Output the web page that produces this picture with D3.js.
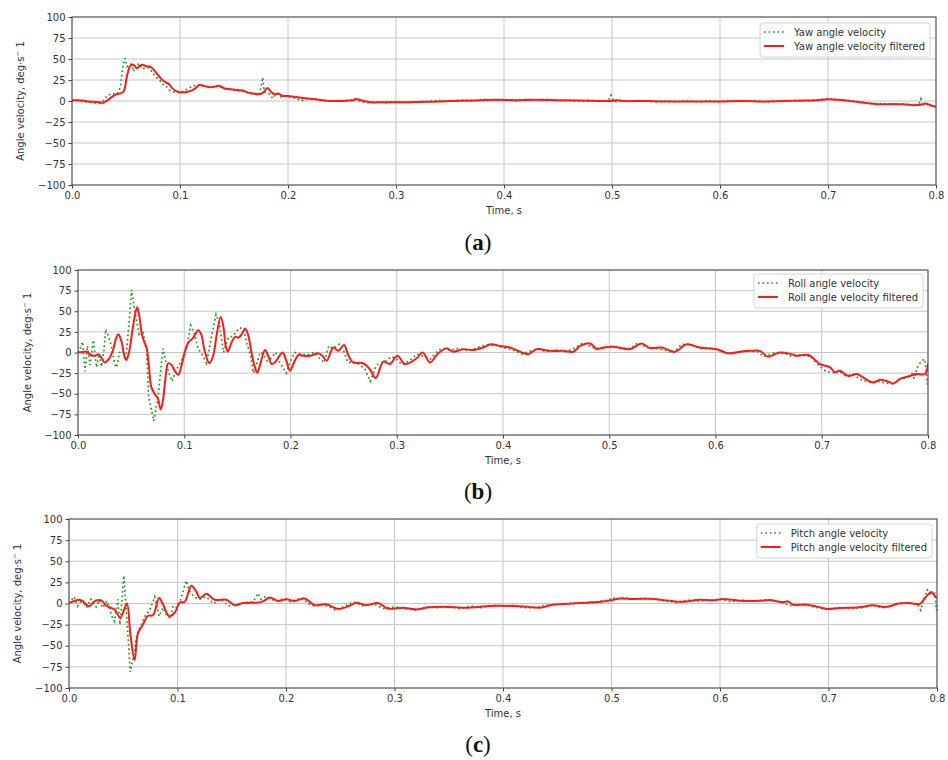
<!DOCTYPE html>
<html><head><meta charset="utf-8">
<script src="https://cdn.jsdelivr.net/npm/d3@7"></script>
<style>body{margin:0;background:#fff}svg{display:block}</style>
</head><body>
<script>
// ---------- tick labels ----------
const xTicks = [0, 0.1, 0.2, 0.3, 0.4, 0.5, 0.6, 0.7, 0.8];
const yTicks = [-100, -75, -50, -25, 0, 25, 50, 75, 100];
const xLabel = "Time, s";
const captions = ["a", "b", "c"];
const rawLabels = ["Yaw angle velocity", "Roll angle velocity", "Pitch angle velocity"];
const filtLabels = ["Yaw angle velocity filtered", "Roll angle velocity filtered", "Pitch angle velocity filtered"];

// ---------- (a) Yaw ----------
const yawRawT = [0,0.005,0.01,0.015,0.02,0.025,0.028,0.031,0.034,0.037,0.04,0.043,0.045,0.047,0.049,0.051,0.053,0.055,0.057,0.059,0.061,0.063,0.065,0.067,0.069,0.072,0.075,0.078,0.081,0.084,0.087,0.09,0.093,0.097,0.1,0.104,0.108,0.112,0.116,0.12,0.125,0.13,0.135,0.14,0.145,0.15,0.155,0.16,0.165,0.17,0.173,0.175,0.1765,0.178,0.18,0.183,0.186,0.189,0.193,0.197,0.202,0.208,0.212,0.218,0.225,0.232,0.24,0.25,0.258,0.262,0.266,0.272,0.28,0.29,0.3,0.31,0.32,0.33,0.34,0.35,0.36,0.37,0.38,0.39,0.4,0.41,0.42,0.43,0.44,0.45,0.46,0.47,0.48,0.49,0.497,0.499,0.5,0.502,0.51,0.52,0.53,0.54,0.55,0.56,0.57,0.58,0.59,0.6,0.61,0.62,0.63,0.64,0.65,0.66,0.67,0.68,0.69,0.7,0.71,0.72,0.73,0.74,0.75,0.76,0.77,0.78,0.784,0.786,0.788,0.79,0.793,0.797,0.8];
const yawRaw = [0,0.5,-1,-1,-2,-3,-1,4,7,9,8,10,18,40,51,41,43,44,35,43,44,40,42,38,43,38,33,28,25,20,18,13,11,10,10,12,15,18,19,18,17,17,18,15,14,13,12,11,9,8,7,16,28,12,9,8,3,9,5,6,5,3,0,3,2,1,-0.5,0.5,1,3,0,-2,-1,-2,-1,-2,-1,-0.5,0.5,0,1,0,2,1,2,0.5,2,1,2,0.5,1,0,1,-0.5,1,7,4,-1,0.5,-0.5,0.5,-1,0,-1,0.5,-1,0,-1,0.5,-0.5,0.5,-1,0,-0.5,0.5,0,1.5,2.5,1,0.5,-1,-3,-3,-4,-3.5,-5,-4,2.5,-6,-2,-5,-6,-7];
const yawFiltT = [0,0.005,0.01,0.015,0.02,0.025,0.029,0.033,0.037,0.041,0.045,0.048,0.051,0.054,0.057,0.06,0.063,0.066,0.069,0.072,0.075,0.079,0.083,0.087,0.09,0.093,0.096,0.1,0.105,0.11,0.114,0.118,0.122,0.127,0.132,0.137,0.141,0.147,0.153,0.158,0.163,0.168,0.173,0.177,0.181,0.185,0.188,0.191,0.195,0.2,0.206,0.212,0.218,0.225,0.232,0.24,0.25,0.258,0.264,0.27,0.276,0.29,0.31,0.33,0.35,0.37,0.39,0.41,0.43,0.45,0.47,0.49,0.5,0.505,0.51,0.53,0.55,0.57,0.6,0.62,0.64,0.66,0.68,0.69,0.7,0.71,0.72,0.73,0.74,0.75,0.76,0.77,0.78,0.786,0.79,0.795,0.8];
const yawFilt = [1,1,0.5,-0.5,-1,-1.5,-2,1,5,8,9,12,30,42,43,39,42,43,41,41,38,32,26,22,20,15,12,10.5,10.5,12,15,19,18,16.5,17,18,15,14,13,12.5,10,9,8,10,15.5,10,8,9,6,6,5,4,3,2,1,0,0,0.5,2,0,-1.5,-1.5,-1.5,-1,0,0.5,1.5,1,1.5,1,0.5,0,0,1,0,0,-0.5,-0.5,-0.5,0,-0.5,0,0.5,1,2,1.5,0,-1.5,-3,-4,-3.5,-4,-5,-4.5,-3,-5,-7];

// ---------- (b) Roll ----------
const rollRawT = [0,0.002,0.0042,0.0066,0.0089,0.0113,0.0144,0.0175,0.02,0.022,0.0245,0.026,0.028,0.031,0.033,0.035,0.0365,0.039,0.042,0.045,0.047,0.0505,0.052,0.055,0.0575,0.061,0.063,0.0645,0.0664,0.0713,0.0753,0.078,0.08,0.0825,0.0855,0.0886,0.092,0.0975,0.1,0.103,0.1062,0.109,0.113,0.118,0.121,0.125,0.1299,0.133,0.137,0.1415,0.146,0.152,0.156,0.159,0.1624,0.165,0.168,0.1713,0.1745,0.178,0.181,0.186,0.19,0.196,0.2,0.204,0.21,0.216,0.222,0.228,0.232,0.236,0.24,0.246,0.25,0.254,0.262,0.27,0.275,0.281,0.288,0.295,0.3,0.305,0.312,0.319,0.326,0.332,0.337,0.342,0.35,0.358,0.368,0.376,0.384,0.392,0.4,0.41,0.418,0.426,0.434,0.44,0.45,0.46,0.468,0.476,0.484,0.49,0.5,0.51,0.52,0.527,0.535,0.545,0.555,0.56,0.568,0.575,0.585,0.595,0.605,0.612,0.62,0.63,0.64,0.645,0.65,0.657,0.665,0.672,0.68,0.69,0.695,0.703,0.71,0.716,0.722,0.73,0.738,0.746,0.752,0.76,0.767,0.773,0.78,0.785,0.787,0.79,0.794,0.797,0.7985,0.8];
const rollRaw = [0,5,13,-23,8,-15,15,-18,-2,-17,3,28,22,10,-3,-15,-18,0,2,-8,20,76,62,40,22,27,10,5,-53,-83,-55,-20,5,-10,-25,-35,-22,-10,-2,10,33,25,5,-5,-13,15,46,35,0,18,20,30,28,10,-3,-25,-15,0,-2,-10,-8,0,-12,-25,-10,0,-2,-3,0,-8,-12,8,5,10,2,-12,-12,-20,-35,-15,-12,-5,-8,-15,-10,-2,-5,-8,0,5,3,5,2,6,9,9,6,3,-2,2,4,1,3,1,6,12,6,5,8,5,5,12,6,5,2,-1,10,10,5,5,3,-2,0,2,1,-5,-3,0,-1,-5,-3,-5,-13,-22,-25,-22,-28,-27,-34,-36,-35,-37,-38,-33,-30,-26,-32,-18,-10,-8,-25,-43];
const rollFiltT = [0,0.004,0.008,0.011,0.0144,0.017,0.019,0.022,0.025,0.029,0.033,0.036,0.038,0.041,0.044,0.0455,0.048,0.051,0.054,0.0558,0.058,0.06,0.062,0.0647,0.067,0.069,0.0725,0.075,0.0778,0.08,0.082,0.085,0.088,0.091,0.0944,0.097,0.1,0.1038,0.108,0.1132,0.116,0.119,0.1236,0.127,0.131,0.1343,0.137,0.139,0.141,0.1445,0.1478,0.151,0.154,0.1572,0.16,0.1634,0.1665,0.1688,0.172,0.176,0.179,0.1823,0.186,0.1926,0.196,0.1995,0.203,0.2075,0.212,0.2184,0.226,0.23,0.234,0.2403,0.245,0.2504,0.254,0.2588,0.2682,0.2745,0.2802,0.2874,0.2936,0.3005,0.3078,0.3187,0.3244,0.3313,0.3391,0.347,0.3527,0.3627,0.372,0.3812,0.3884,0.3972,0.4066,0.416,0.4238,0.4317,0.444,0.4568,0.4662,0.4725,0.4819,0.4882,0.4913,0.5039,0.5195,0.5305,0.5383,0.5494,0.5619,0.5729,0.5854,0.6011,0.612,0.623,0.6337,0.6416,0.6494,0.6604,0.6714,0.6761,0.6874,0.6984,0.7078,0.7125,0.7172,0.725,0.7329,0.7423,0.7486,0.7549,0.7611,0.7674,0.7736,0.7831,0.7878,0.7972,0.8];
const rollFilt = [0,0.5,1,-2,-4,-3.5,-2,-6,-12,-8,3,18,22,13,-6,-9,0,25,48,55,42,23,14,5,-20,-42,-51,-55,-69,-58,-35,-13,-15,-22,-27,-18,-2,12,17,27,22,3,-13,-5,25,43,30,8,1,12,19,18,22,29,22,-1,-18,-24.5,-12,3,-4,-14,-11,0,-10,-22,-13,-3,-4,-4,-1,-4,-10,6,2,9,-2,-12,-13,-20,-31,-11,-14,-4,-14,-7,0,-12,-1,5,1,4,3,6,10,8,6,1,-2,4,2,2,1,8,11,4,5,7,4,11,5.5,6,1,10,6,4,-1,1,2,2,-5,0,-2,-4,-3,-14,-18,-24,-22,-28.5,-26,-33,-36.5,-33,-34.5,-37.5,-32,-28.5,-26,-26,-13];

// ---------- (c) Pitch ----------
const pitchRawT = [0,0.0046,0.008,0.012,0.016,0.02,0.025,0.028,0.031,0.035,0.0395,0.042,0.045,0.047,0.0506,0.052,0.055,0.0565,0.059,0.0625,0.0668,0.07,0.0743,0.079,0.083,0.0866,0.089,0.0934,0.096,0.099,0.103,0.108,0.111,0.115,0.12,0.1266,0.133,0.14,0.147,0.155,0.163,0.17,0.174,0.177,0.181,0.186,0.192,0.198,0.204,0.21,0.216,0.22,0.226,0.234,0.24,0.246,0.254,0.262,0.27,0.28,0.29,0.3,0.31,0.32,0.33,0.34,0.35,0.36,0.37,0.38,0.39,0.4,0.41,0.42,0.43,0.44,0.45,0.46,0.47,0.48,0.49,0.497,0.501,0.505,0.51,0.52,0.53,0.54,0.55,0.56,0.57,0.58,0.59,0.6,0.61,0.62,0.63,0.64,0.65,0.66,0.663,0.67,0.68,0.69,0.7,0.71,0.72,0.73,0.74,0.75,0.757,0.765,0.775,0.782,0.785,0.787,0.791,0.795,0.798,0.7995,0.8];
const pitchRaw = [0,8,-3,5,-5,5,-4,4,-5,3,-15,-21,5,-25,33,5,-50,-81,-65,-38,-25,-15,-8,8,-15,-5,-12,-18,-3,-5,5,27,15,8,5,8,0,5,-3,-1,1,2,12,5,8,5,3,6,2,5,6,0,-3,-1,-4,-8,-3,2,-3,0,-6,-4,-6,-8,-4,-5,-3,-6,-3,-5,-2,-3,-2,-5,-5,-2,-1,0,1,0,3,4,7,5,7,5,6,5,3,1,4,3,4,5,2,4,3,4,3,1,-3,-1,-2,-5,-7,-5,-6,-5,-2,-5,-3,0,0,-1,-8,2,16,10,12,-8,-6];
const pitchFiltT = [0,0.005,0.0099,0.014,0.0184,0.0234,0.0298,0.034,0.039,0.042,0.0473,0.0503,0.0534,0.0568,0.0605,0.0636,0.0682,0.0728,0.0774,0.083,0.0866,0.0922,0.0974,0.102,0.1066,0.1128,0.1174,0.1205,0.1266,0.1343,0.1451,0.1527,0.1605,0.1727,0.1788,0.185,0.1927,0.2004,0.208,0.2172,0.2265,0.2372,0.248,0.2587,0.2649,0.2741,0.2848,0.294,0.3078,0.3202,0.3324,0.3478,0.3631,0.3785,0.3939,0.4092,0.4231,0.4338,0.4461,0.4615,0.4769,0.4922,0.4998,0.5076,0.5199,0.5352,0.5506,0.5659,0.5813,0.5935,0.6028,0.6181,0.6365,0.6458,0.658,0.6627,0.6673,0.6796,0.6903,0.699,0.7101,0.7286,0.741,0.75,0.7566,0.7643,0.775,0.7843,0.789,0.7948,0.798,0.8];
const pitchFilt = [0.5,3,4.5,1,-3.4,2.5,3.7,-2,-5.4,-7,-17,-9,0,-39,-67,-35,-25,-14.5,-14,6.5,-1,-15,-11,1,2,21,14,6.5,11.5,4.5,4.5,-2,0.5,1,2.5,7,3,5,3,6,-2,-1,-6.5,-2.6,1,-2,0.5,-6,-5,-7,-4.5,-4,-5,-4,-2.6,-3,-4,-5,-1.4,-0.3,1,2.5,4,6,5.3,5.7,3.7,2,4.5,3.7,5.3,3.3,3.3,4,1.6,2.5,-1.4,-1.4,-4,-6.5,-5.3,-4.5,-2,-4,-3.3,0,0.5,-0.4,6.5,13.6,9,6.5];

// ---------- layout ----------
const W = 948, H = 760;
const panels = [
  {left:72, right:936, top:17, bottom:185, ylabX:24, capY:243, legR:6, legT:6,
   rawT:yawRawT, raw:yawRaw, filtT:yawFiltT, filt:yawFilt},
  {left:78, right:928, top:270, bottom:435, ylabX:31, capY:492, legR:5, legT:4,
   rawT:rollRawT, raw:rollRaw, filtT:rollFiltT, filt:rollFilt},
  {left:69, right:937, top:519, bottom:688, ylabX:21, capY:745, legR:5, legT:5,
   rawT:pitchRawT, raw:pitchRaw, filtT:pitchFiltT, filt:pitchFilt}
];
const GREEN = "#22962a", RED = "#ff1a1a";
const FONT = "DejaVu Sans, sans-serif";

const svg = d3.select("body").append("svg").attr("width", W).attr("height", H)
  .style("font-family", FONT);

const fmtY = d => d < 0 ? "\u2212" + Math.abs(d) : String(d);

panels.forEach((p, i) => {
  const x = d3.scaleLinear().domain([0, 0.8]).range([p.left, p.right]);
  const y = d3.scaleLinear().domain([-100, 100]).range([p.bottom, p.top]);
  const g = svg.append("g");

  // grid
  g.append("g").selectAll("line").data(xTicks).join("line")
    .attr("x1", d => x(d)).attr("x2", d => x(d)).attr("y1", p.top).attr("y2", p.bottom)
    .attr("stroke", "#c6c6c6").attr("stroke-width", 1);
  g.append("g").selectAll("line").data(yTicks).join("line")
    .attr("y1", d => y(d)).attr("y2", d => y(d)).attr("x1", p.left).attr("x2", p.right)
    .attr("stroke", "#c6c6c6").attr("stroke-width", 1);

  // clip
  const cid = "clip" + i;
  svg.append("clipPath").attr("id", cid).append("rect")
    .attr("x", p.left).attr("y", p.top).attr("width", p.right - p.left).attr("height", p.bottom - p.top);

  const rawData = p.rawT.map((t, k) => [t, p.raw[k]]);
  const filtData = p.filtT.map((t, k) => [t, p.filt[k]]);
  const lineRaw = d3.line().x(d => x(d[0])).y(d => y(d[1]));
  const lineFilt = d3.line().x(d => x(d[0])).y(d => y(d[1])).curve(d3.curveCatmullRom.alpha(0.5));

  const plot = g.append("g").attr("clip-path", `url(#${cid})`);
  plot.append("path").datum(rawData).attr("d", lineRaw)
    .attr("fill", "none").attr("stroke", GREEN).attr("stroke-width", 1.7)
    .attr("stroke-dasharray", "1.7,2.8");
  plot.append("path").datum(filtData).attr("d", lineFilt)
    .attr("fill", "none").attr("stroke", RED).attr("stroke-width", 2)
    .attr("stroke-linejoin", "round");

  // axes
  const ax = g.append("g").attr("transform", `translate(0,${p.bottom})`)
    .call(d3.axisBottom(x).tickValues(xTicks).tickSize(3.5).tickPadding(3).tickFormat(d3.format(".1f")));
  const ay = g.append("g").attr("transform", `translate(${p.left},0)`)
    .call(d3.axisLeft(y).tickValues(yTicks).tickSize(3.5).tickPadding(3).tickFormat(fmtY));
  [ax, ay].forEach(a => {
    a.select(".domain").remove();
    a.selectAll("line").attr("stroke", "#444");
    a.selectAll("text").attr("fill", "#333").style("font-size", "10px").style("font-family", FONT);
  });

  // frame
  g.append("rect").attr("x", p.left).attr("y", p.top)
    .attr("width", p.right - p.left).attr("height", p.bottom - p.top)
    .attr("fill", "none").attr("stroke", "#4a4a4a").attr("stroke-width", 1);

  // axis labels
  g.append("text").attr("x", (p.left + p.right) / 2).attr("y", p.bottom + 29)
    .attr("text-anchor", "middle").attr("fill", "#333").style("font-size", "10px").text(xLabel);
  const yl = g.append("text")
    .attr("transform", `translate(${p.ylabX},${(p.top + p.bottom) / 2}) rotate(-90)`)
    .attr("text-anchor", "middle").attr("fill", "#333").style("font-size", "10px");
  yl.append("tspan").text("Angle velocity, deg\u00b7s");
  yl.append("tspan").attr("dy", -4).style("font-size", "7px").text("\u2212");
  yl.append("tspan").attr("dy", 4).text(" 1");

  // legend
  const leg = g.append("g");
  const t1 = leg.append("text").style("font-size", "10px").attr("fill", "#333").text(rawLabels[i]);
  const t2 = leg.append("text").style("font-size", "10px").attr("fill", "#333").text(filtLabels[i]);
  const tw = Math.max(t1.node().getComputedTextLength(), t2.node().getComputedTextLength());
  const bw = tw + 39, bh = 34;
  const bx = p.right - p.legR - bw, by = p.top + p.legT;
  leg.insert("rect", "text").attr("x", bx).attr("y", by).attr("width", bw).attr("height", bh)
    .attr("rx", 3).attr("fill", "white").attr("fill-opacity", 0.85)
    .attr("stroke", "#d4d4d4").attr("stroke-width", 1);
  t1.attr("x", bx + 34).attr("y", by + 12.5);
  t2.attr("x", bx + 34).attr("y", by + 26.5);
  leg.append("line").attr("x1", bx + 4).attr("x2", bx + 24).attr("y1", by + 9).attr("y2", by + 9)
    .attr("stroke", GREEN).attr("stroke-width", 1.7).attr("stroke-dasharray", "1.7,2.8");
  leg.append("line").attr("x1", bx + 4).attr("x2", bx + 24).attr("y1", by + 23).attr("y2", by + 23)
    .attr("stroke", RED).attr("stroke-width", 2);

  // caption
  const cap = svg.append("text").attr("x", 478).attr("y", p.capY + 7)
    .attr("text-anchor", "middle").style("font-family", "Liberation Serif, DejaVu Serif, serif")
    .style("font-size", "23px").attr("fill", "#111");
  cap.append("tspan").text("(");
  cap.append("tspan").style("font-weight", "bold").text(captions[i]);
  cap.append("tspan").text(")");
});
</script>
</body></html>
